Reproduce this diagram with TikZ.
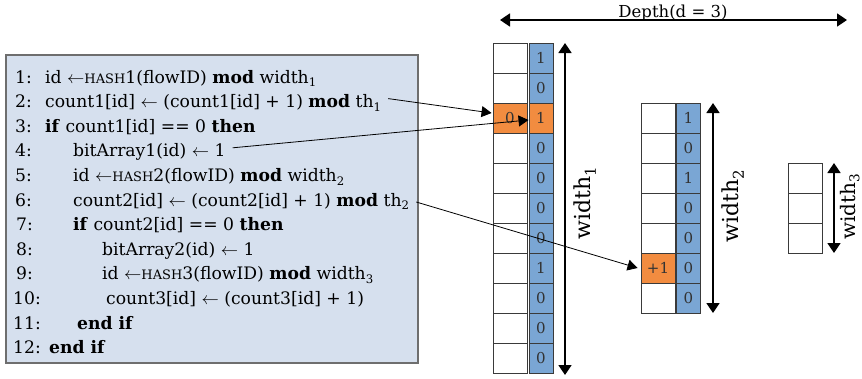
\documentclass[tikz,border=0pt]{standalone}
\usepackage{fontspec}
\setmainfont{DejaVu Serif}
\usetikzlibrary{arrows.meta,calc}
\definecolor{boxfill}{HTML}{D6E0EE}
\definecolor{boxline}{HTML}{6E6E6E}
\definecolor{cellblue}{HTML}{7AA6D4}
\definecolor{cellorange}{HTML}{F28C40}
\definecolor{celltext}{HTML}{333333}
\definecolor{cellline}{HTML}{3A3A3A}
\newcommand{\fakesc}[1]{{\fontsize{13}{13}\selectfont #1}}
\newcommand{\lowidx}[1]{\raisebox{-0.22em}{\fontsize{0.68em}{0.68em}\selectfont #1}}
\tikzset{
  algbox/.style={draw=boxline, fill=boxfill, line width=1.5pt, inner sep=0pt},
  algnum/.style={anchor=base west, inner sep=0pt, font=\fontsize{17.2}{20}\selectfont},
  algline/.style={anchor=base west, inner sep=0pt, font=\fontsize{17.2}{20}\selectfont},
  cell/.style={draw=cellline, line width=0.9pt, minimum height=30pt, inner sep=0pt,
    font=\fontsize{15}{15}\selectfont, text=celltext},
  wcell/.style={cell, fill=white, minimum width=34pt},
  bcell/.style={cell, fill=cellblue, minimum width=24pt},
  ocell/.style={fill=cellorange},
  dimarrow/.style={line width=1.8pt, {Triangle[width=13pt,length=10pt]}-{Triangle[width=13pt,length=10pt]}},
  dimlabel/.style={inner sep=0pt, font=\fontsize{22}{22}\selectfont},
  conn/.style={line width=0.8pt, -{Triangle[width=11pt,length=10pt]}}
}
\begin{document}
\begin{tikzpicture}[x=1pt,y=-1pt]
\useasboundingbox (0,0) rectangle (862,378);

% algorithm box
\node[algbox, minimum width=412pt, minimum height=308pt] (alg) at (212,209) {};

\node[algnum] (n1) at (15,83.0) {1:};
\node[algline] (l1) at (45,83.0) {id $\leftarrow$\fakesc{HASH}1(flowID) \textbf{mod} width\lowidx{1}};
\node[algnum] (n2) at (15,107.6) {2:};
\node[algline] (l2) at (45,107.6) {count1[id] $\leftarrow$ (count1[id] + 1) \textbf{mod} th\lowidx{1}};
\node[algnum] (n3) at (15,132.2) {3:};
\node[algline] (l3) at (45,132.2) {\textbf{if} count1[id] == 0 \textbf{then}};
\node[algnum] (n4) at (15,156.8) {4:};
\node[algline] (l4) at (73,156.8) {bitArray1(id) $\leftarrow$ 1};
\node[algnum] (n5) at (15,181.4) {5:};
\node[algline] (l5) at (73,181.4) {id $\leftarrow$\fakesc{HASH}2(flowID) \textbf{mod} width\lowidx{2}};
\node[algnum] (n6) at (15,206.0) {6:};
\node[algline] (l6) at (73,206.0) {count2[id] $\leftarrow$ (count2[id] + 1) \textbf{mod} th\lowidx{2}};
\node[algnum] (n7) at (16,230.6) {7:};
\node[algline] (l7) at (73,230.6) {\textbf{if} count2[id] == 0 \textbf{then}};
\node[algnum] (n8) at (16,255.2) {8:};
\node[algline] (l8) at (102,255.2) {bitArray2(id) $\leftarrow$ 1};
\node[algnum] (n9) at (16,279.8) {9:};
\node[algline] (l9) at (102,279.8) {id $\leftarrow$\fakesc{HASH}3(flowID) \textbf{mod} width\lowidx{3}};
\node[algnum] (n10) at (13,304.4) {10:};
\node[algline] (l10) at (106,304.4) {count3[id] $\leftarrow$ (count3[id] + 1)};
\node[algnum] (n11) at (13,329.0) {11:};
\node[algline] (l11) at (77,329.0) {\textbf{end if}};
\node[algnum] (n12) at (13,353.6) {12:};
\node[algline] (l12) at (49,353.6) {\textbf{end if}};

% column 1
\foreach \i/\v in {0/1,1/0,3/0,4/0,5/0,6/0,7/1,8/0,9/0,10/0} {
  \node[wcell] (a\i) at (510,58+30*\i) {};
  \node[bcell] (b\i) at (541,58+30*\i) {\v};
}
\node[wcell, ocell] (a2) at (510,118) {0};
\node[bcell, ocell] (b2) at (541,118) {1};

% column 2
\foreach \i/\v in {0/1,1/0,2/1,3/0,4/0,6/0} {
  \node[wcell] (c\i) at (658,118+30*\i) {};
  \node[bcell] (d\i) at (688.5,118+30*\i) {\v};
}
\node[wcell, ocell] (c5) at (658,268) {+1};
\node[bcell] (d5) at (688.5,268) {0};

% column 3
\foreach \i in {0,1,2} {
  \node[wcell] (e\i) at (805.5,178+30*\i) {};
}

% dimension arrows
\coordinate (w1t) at (565,43);
\coordinate (w1b) at (565,375);
\draw[dimarrow] (w1t) -- (w1b);
\node[dimlabel, rotate=90] (w1lab) at (585,203) {width\lowidx{1}};

\coordinate (w2t) at (713,103);
\coordinate (w2b) at (713,313);
\draw[dimarrow] (w2t) -- (w2b);
\node[dimlabel, rotate=90] (w2lab) at (733,206) {width\lowidx{2}};

\coordinate (w3t) at (834,163);
\coordinate (w3b) at (834,253);
\draw[dimarrow] (w3t) -- (w3b);
\node[dimlabel, rotate=90, anchor=base, font=\fontsize{20}{20}\selectfont] (w3lab) at (855,207) {width\lowidx{3}};

\coordinate (dl) at (500,20);
\coordinate (dr) at (847,20);
\draw[dimarrow] (dl) -- (dr);
\node[anchor=base, inner sep=0pt, font=\fontsize{16.5}{16.5}\selectfont] (dlab) at (673,17) {Depth(d = 3)};

% connectors
\draw[conn] ($(l2.base east)+(7,-9)$) -- ($(a2.west)+(-1,-5)$);
\draw[conn] ($(l4.base east)+(7,-9)$) -- ($(b2.west)+(0,2)$);
\draw[conn] ($(l6.base east)+(7,-4)$) -- ($(c5.west)+(-3,0)$);
\end{tikzpicture}
\end{document}
